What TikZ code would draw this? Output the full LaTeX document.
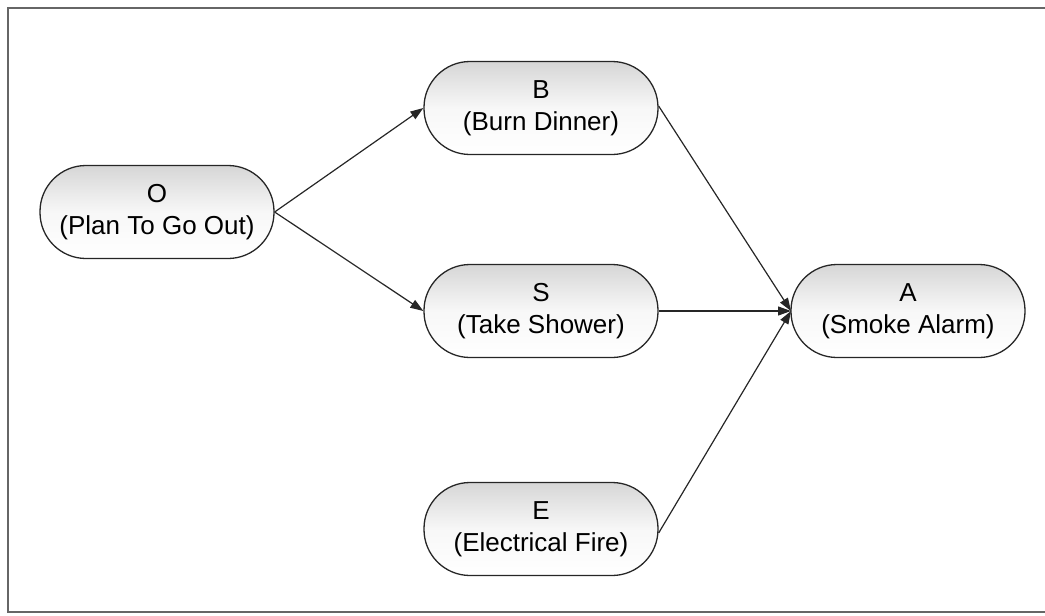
\documentclass[tikz,border=0pt]{standalone}
\usepackage{fontspec}
\setmainfont{Liberation Sans}
\usetikzlibrary{arrows.meta,shadings}
\begin{document}
\begin{tikzpicture}[x=1pt,y=-1pt,
  state/.style={draw=black!85, line width=1.3pt, rounded corners=46pt,
    minimum width=234pt, minimum height=93pt, inner sep=0pt,
    top color=black!16, bottom color=white, middle color=white!97!black,
    align=center, font=\fontsize{26}{32}\selectfont},
  link/.style={draw=black!85, line width=1.2pt, -{Triangle[length=13pt,width=9pt]}}]
\useasboundingbox (0,0) rectangle (1045,616);
\draw[black!60, line width=2pt] (1050,8) -- (8,8) -- (8,612) -- (1050,612);
\node[state] (O) at (157,212) {O\\(Plan To Go Out)};
\node[state] (B) at (541,108) {B\\(Burn Dinner)};
\node[state] (S) at (541,311) {S\\(Take Shower)};
\node[state] (E) at (541,529) {E\\(Electrical Fire)};
\node[state] (A) at (908,311) {A\\(Smoke Alarm)};
\coordinate (Ain) at (791,311);
\draw[link] (O.east) -- (B.west);
\draw[link] (O.east) -- (S.west);
\draw[link] ([yshift=2pt]B.east) -- (Ain);
\draw[link] (S.east) -- (Ain);
\draw[link] ([yshift=-4pt]E.east) -- (Ain);
\end{tikzpicture}
\end{document}
